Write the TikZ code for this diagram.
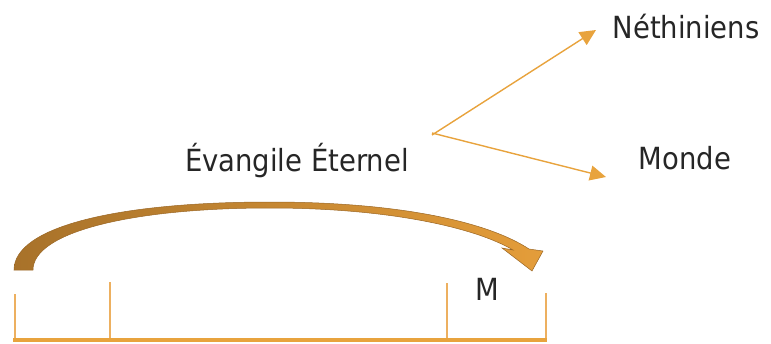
\documentclass[tikz,border=0pt]{standalone}
\usepackage{fontspec}
\setmainfont{DejaVu Sans Condensed}
\usepackage{tikz}
\usetikzlibrary{arrows.meta}

\definecolor{linecol}{HTML}{E8A33D}
\definecolor{tickcol}{HTML}{EDB060}
\definecolor{arcbrown}{HTML}{A8722A}
\definecolor{arcorange}{HTML}{E49D3A}
\definecolor{arcedge}{HTML}{9A6624}
\definecolor{textcol}{HTML}{262626}

\begin{document}
\begin{tikzpicture}[
  x=1pt, y=-1pt,
  >={Triangle[length=16pt,width=15pt]},
  label/.style={text=textcol, inner sep=2pt, font=\fontsize{30.5}{36}\selectfont},
  branch/.style={->, draw=linecol, fill=linecol, line width=1.4pt},
  bar/.style={draw=linecol, line width=4.5pt},
  tick/.style={draw=tickcol, line width=1.8pt}
]
  \useasboundingbox (0,0) rectangle (771,343);

  % texts
  \node[label] (evangile) at (297,161) {Évangile Éternel};
  \node[label] (nethiniens) at (686,27) {Néthiniens};
  \node[label] (monde) at (685,158) {Monde};
  \node[label] (m) at (487,289) {M};

  % branching arrows
  \coordinate (split) at (432,135);
  \coordinate (tipN) at (596,30);
  \coordinate (tipM) at (606,177);
  \draw[branch] (split) -- (tipN);
  \draw[branch] ([yshift=2pt]split) -- (tipM);

  % curved arrow
  \shade[draw=arcedge, line width=0.5pt, left color=arcbrown, right color=arcorange]
    (14,270) .. controls (14,226) and (120,202) .. (270,202)
    .. controls (400,202) and (488,222) .. (529,249)
    -- (543,251) -- (532,271) -- (502,248) -- (513,250)
    .. controls (476,228) and (390,208) .. (270,208)
    .. controls (132,208) and (33,232) .. (33,270) -- cycle;

  % time line
  \coordinate (a) at (15,340);
  \coordinate (b) at (110,340);
  \coordinate (c) at (447,340);
  \coordinate (d) at (546,340);
  \draw[tick] (a) -- ++(0,-46);
  \draw[tick] (b) -- ++(0,-58);
  \draw[tick] (c) -- ++(0,-57);
  \draw[tick] (d) -- ++(0,-47);
  \draw[bar] ([xshift=-2pt]a) -- ([xshift=1pt]d);
\end{tikzpicture}
\end{document}
